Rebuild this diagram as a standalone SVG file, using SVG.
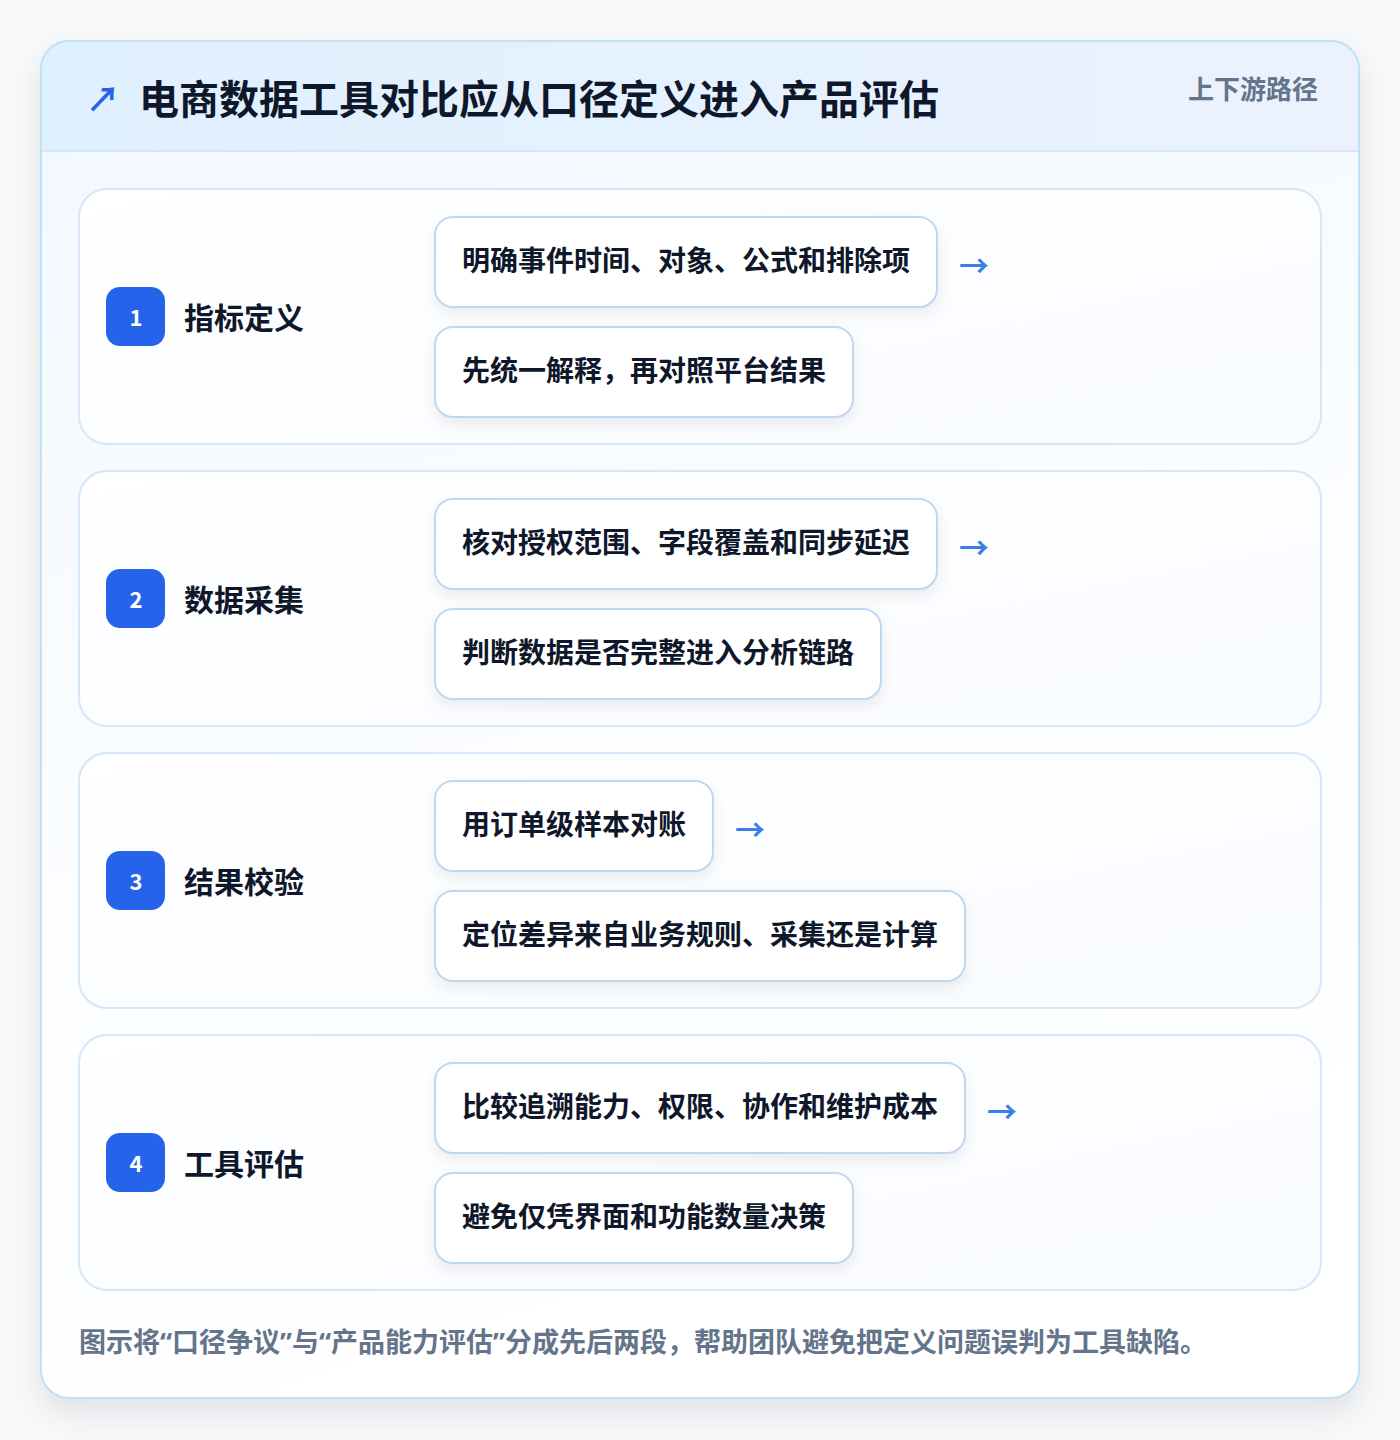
<svg xmlns="http://www.w3.org/2000/svg" width="1400" height="1440" viewBox="0 0 1400 1440">
<defs>
<linearGradient id="hdr" x1="0" y1="0" x2="1" y2="0"><stop offset="0" stop-color="#dff0fe"/><stop offset="1" stop-color="#ebf2fe"/></linearGradient>
<linearGradient id="body" x1="0" y1="0" x2="0.3" y2="1"><stop offset="0" stop-color="#f1f8ff"/><stop offset="0.6" stop-color="#fbfdff"/><stop offset="1" stop-color="#ffffff"/></linearGradient>
<linearGradient id="panel" x1="0" y1="0" x2="1" y2="1"><stop offset="0" stop-color="#ffffff"/><stop offset="1" stop-color="#f8fbff"/></linearGradient>
<filter id="cardShadow" x="-10%" y="-10%" width="120%" height="120%"><feDropShadow dx="0" dy="14" stdDeviation="16" flood-color="#0f172a" flood-opacity="0.10"/></filter>
<filter id="boxShadow" x="-10%" y="-20%" width="120%" height="160%"><feDropShadow dx="0" dy="6" stdDeviation="7" flood-color="#0f172a" flood-opacity="0.07"/></filter>
<clipPath id="cardClip"><rect x="41" y="41" width="1318" height="1357" rx="28"/></clipPath>
</defs>
<style>
.cjk{font-family:"Noto Sans CJK SC","Noto Sans",sans-serif;font-weight:700}
.title{font-size:40px;fill:#0f172a}
.tag{font-size:26px;fill:#64748b}
.panel{fill:url(#panel);stroke:#d5e7f8;stroke-width:2}
.badge{fill:#2563eb}
.num{font-family:"Noto Sans CJK SC","Noto Sans",sans-serif;font-weight:700;font-size:22px;fill:#ffffff;text-anchor:middle}
.label{font-size:30px;fill:#0f172a}
.box{fill:#ffffff;stroke:#bfd7f3;stroke-width:2;filter:url(#boxShadow)}
.item{font-size:28px;fill:#0f172a}
.arr{font-family:"Noto Sans CJK SC",sans-serif;font-weight:700;font-size:30px;fill:#3b7fe6}
.foot{font-family:"Noto Sans","Noto Sans CJK SC",sans-serif;font-weight:700;font-size:27px;fill:#64748b}
</style>
<rect width="1400" height="1440" fill="#f8f9fa"/>
<g id="card">
<rect x="41" y="41" width="1318" height="1357" rx="28" fill="#ffffff" filter="url(#cardShadow)"/>
<g clip-path="url(#cardClip)">
<rect x="41" y="41" width="1318" height="1357" fill="url(#body)"/>
<rect x="41" y="41" width="1318" height="110" fill="url(#hdr)"/>
<line x1="41" y1="151" x2="1359" y2="151" stroke="#d4e7fb" stroke-width="2"/>
</g>
<rect x="41" y="41" width="1318" height="1357" rx="28" fill="none" stroke="#bfe2f7" stroke-width="2"/>
</g>
<g id="header">
<text x="86" y="112" class="cjk" style="font-size:34px;fill:#2563eb">↗</text>
<text x="139" y="114" class="cjk title">电商数据工具对比应从口径定义进入产品评估</text>
<text x="1318" y="99" class="cjk tag" text-anchor="end">上下游路径</text>
</g>
<g id="step1">
<rect x="79" y="189" width="1242" height="255" rx="28" class="panel"/>
<rect x="106" y="287" width="59" height="59" rx="14" class="badge"/>
<text x="136" y="326" class="num">1</text>
<text x="184" y="329" class="cjk label">指标定义</text>
<g id="s1a"><rect x="435" y="217" width="502" height="90" rx="18" class="box"/><text x="462" y="271" class="cjk item">明确事件时间、对象、公式和排除项</text></g>
<g id="s1b"><rect x="435" y="327" width="418" height="90" rx="18" class="box"/><text x="462" y="381" class="cjk item">先统一解释，再对照平台结果</text></g>
</g>
<g id="step2">
<rect x="79" y="471" width="1242" height="255" rx="28" class="panel"/>
<rect x="106" y="569" width="59" height="59" rx="14" class="badge"/>
<text x="136" y="608" class="num">2</text>
<text x="184" y="611" class="cjk label">数据采集</text>
<g id="s2a"><rect x="435" y="499" width="502" height="90" rx="18" class="box"/><text x="462" y="553" class="cjk item">核对授权范围、字段覆盖和同步延迟</text></g>
<g id="s2b"><rect x="435" y="609" width="446" height="90" rx="18" class="box"/><text x="462" y="663" class="cjk item">判断数据是否完整进入分析链路</text></g>
</g>
<g id="step3">
<rect x="79" y="753" width="1242" height="255" rx="28" class="panel"/>
<rect x="106" y="851" width="59" height="59" rx="14" class="badge"/>
<text x="136" y="890" class="num">3</text>
<text x="184" y="893" class="cjk label">结果校验</text>
<g id="s3a"><rect x="435" y="781" width="278" height="90" rx="18" class="box"/><text x="462" y="835" class="cjk item">用订单级样本对账</text></g>
<g id="s3b"><rect x="435" y="891" width="530" height="90" rx="18" class="box"/><text x="462" y="945" class="cjk item">定位差异来自业务规则、采集还是计算</text></g>
</g>
<g id="step4">
<rect x="79" y="1035" width="1242" height="255" rx="28" class="panel"/>
<rect x="106" y="1133" width="59" height="59" rx="14" class="badge"/>
<text x="136" y="1172" class="num">4</text>
<text x="184" y="1175" class="cjk label">工具评估</text>
<g id="s4a"><rect x="435" y="1063" width="530" height="90" rx="18" class="box"/><text x="462" y="1117" class="cjk item">比较追溯能力、权限、协作和维护成本</text></g>
<g id="s4b"><rect x="435" y="1173" width="418" height="90" rx="18" class="box"/><text x="462" y="1227" class="cjk item">避免仅凭界面和功能数量决策</text></g>
</g>
<g id="connectors">
<text x="959" y="277" class="arr">→</text>
<text x="959" y="559" class="arr">→</text>
<text x="735" y="841" class="arr">→</text>
<text x="987" y="1123" class="arr">→</text>
</g>
<g id="footer">
<text x="79" y="1352" class="foot">图示将“口径争议”与“产品能力评估”分成先后两段，帮助团队避免把定义问题误判为工具缺陷。</text>
</g>
</svg>
